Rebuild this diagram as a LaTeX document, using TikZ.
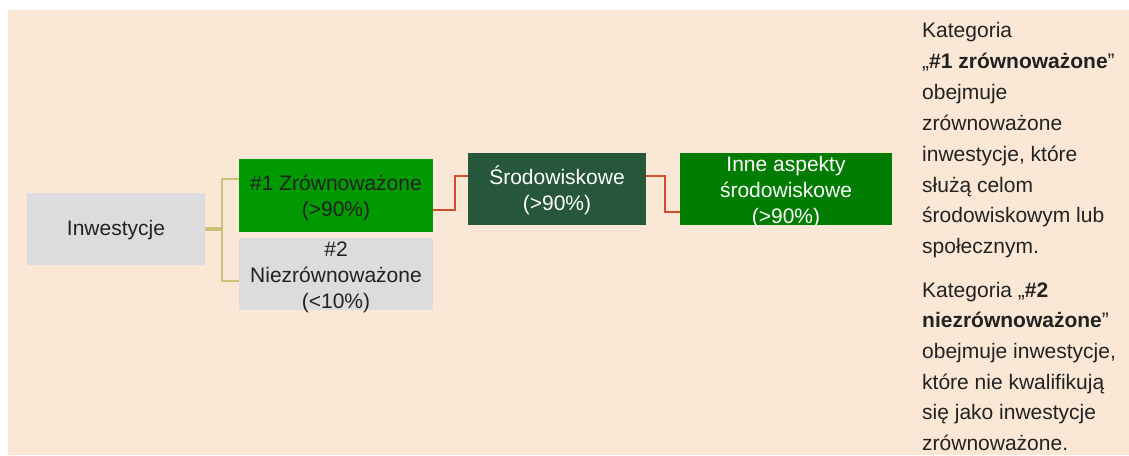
\documentclass[tikz,border=0pt]{standalone}
\usepackage{fontspec}
\setmainfont{Liberation Sans}
\definecolor{peach}{HTML}{FAE7D5}
\definecolor{boxgray}{HTML}{DCDCDE}
\definecolor{greenA}{HTML}{009900}
\definecolor{greenD}{HTML}{27573A}
\definecolor{greenB}{HTML}{007D00}
\definecolor{yelline}{HTML}{C9C27A}
\definecolor{redline}{HTML}{D0502A}
\definecolor{txt}{HTML}{222222}
\tikzset{
  boxnode/.style={rectangle, inner sep=0pt, draw=none},
  boxtext/.style={inner sep=0pt, align=center, font=\fontsize{21}{26}\selectfont},
  sidetext/.style={inner sep=0pt, anchor=base west, text=txt, font=\fontsize{21}{26}\selectfont},
  yelconn/.style={draw=yelline, line width=1.6pt},
  redconn/.style={draw=redline, line width=1.6pt},
}
\begin{document}
\begin{tikzpicture}[x=1pt,y=-1pt]
\useasboundingbox (0,0) rectangle (1129,455);
\fill[peach] (8,10) rectangle (1129,455);
% boxes
\node[boxnode, fill=boxgray, minimum width=178pt, minimum height=72pt] (inv) at (116,229) {};
\node[boxnode, fill=greenA, minimum width=194pt, minimum height=73pt] (n1) at (336,195.5) {};
\node[boxnode, fill=boxgray, minimum width=194pt, minimum height=72pt] (n2) at (336,274) {};
\node[boxnode, fill=greenD, minimum width=178pt, minimum height=72pt] (sr) at (557,189) {};
\node[boxnode, fill=greenB, minimum width=212pt, minimum height=72pt] (in) at (786,189) {};
% box texts
\node[boxtext, text=txt] at ([yshift=-1pt]inv.center) {Inwestycje};
\node[boxtext, text=txt] at ([yshift=-2pt]n1.center) {\#1 Zrównoważone\\(>90\%)};
\node[boxtext, text=txt] at ([yshift=-3pt]n2.center) {\#2\\Niezrównoważone\\(<10\%)};
\node[boxtext, text=white] at ([yshift=-1pt]sr.center) {Środowiskowe\\(>90\%)};
\node[boxtext, text=white] at ([yshift=-3.5pt]in.center) {Inne aspekty\\środowiskowe\\(>90\%)};
% connectors
\coordinate (j) at (222,229);
\draw[yelconn, line width=3.5pt] (inv.east) -- (j);
\draw[yelconn] ([yshift=16.5pt]n1.west) -| (j) |- ([yshift=-7pt]n2.west);
\draw[redconn] ([yshift=-14.5pt]n1.east) -- ++(22,0) |- ([yshift=13pt]sr.west);
\draw[redconn] ([yshift=13pt]sr.east) -- ++(19,0) |- ([yshift=-23pt]in.west);
% side text
\node[sidetext] (a1) at (922,37.5) {Kategoria};
\node[sidetext] (a2) at (922,68.4) {„\textbf{\#1 zrównoważone}”};
\node[sidetext] (a3) at (922,99.3) {obejmuje};
\node[sidetext] (a4) at (922,130.2) {zrównoważone};
\node[sidetext] (a5) at (922,161.1) {inwestycje, które};
\node[sidetext] (a6) at (922,192.0) {służą celom};
\node[sidetext] (a7) at (922,222.9) {środowiskowym lub};
\node[sidetext] (a8) at (922,253.8) {społecznym.};
\node[sidetext] (b1) at (922,297) {Kategoria „\textbf{\#2}};
\node[sidetext] (b2) at (922,327.7) {\textbf{niezrównoważone}”};
\node[sidetext] (b3) at (922,358.4) {obejmuje inwestycje,};
\node[sidetext] (b4) at (922,389.1) {które nie kwalifikują};
\node[sidetext] (b5) at (922,419.8) {się jako inwestycje};
\node[sidetext] (b6) at (922,450.5) {zrównoważone.};
\end{tikzpicture}
\end{document}
